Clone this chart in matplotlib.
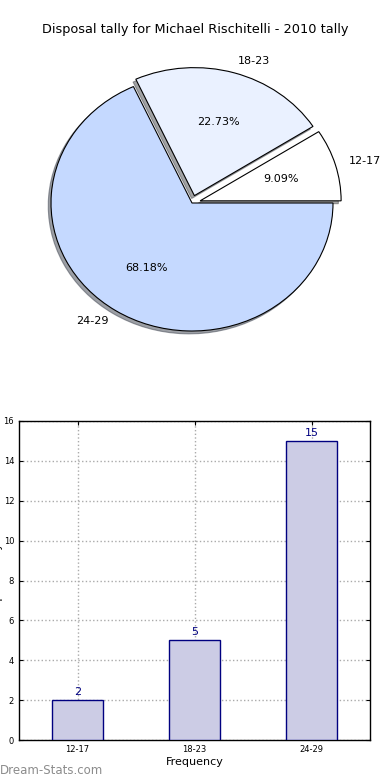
import matplotlib
matplotlib.use("Agg")
import matplotlib.pyplot as plt

title = "Disposal tally for Michael Rischitelli - 2010 tally"
categories = ["12-17", "18-23", "24-29"]
values = [2, 5, 15]
explode = [0.06, 0.06, 0.0]
pie_colors = ["#ffffff", "#eaf1ff", "#c5d9ff"]

fig = plt.figure(figsize=(3.9, 7.8), dpi=100)

# Pie
W, H = 390.0, 780.0
cx, cy, rx, ry = 192.0, 203.0, 141.0, 128.0
lim = 1.25
axp = fig.add_axes([(cx - lim * rx) / W, (H - (cy + lim * ry)) / H,
                    2 * lim * rx / W, 2 * lim * ry / H])
wedges, texts, autotexts = axp.pie(values, labels=categories, explode=explode,
                                   colors=pie_colors, autopct="%1.2f%%",
                                   shadow={"ox": -0.014, "oy": -0.016},
                                   startangle=0, wedgeprops=dict(edgecolor="black", linewidth=0.8),
                                   textprops=dict(fontsize=8))
for w in wedges:
    w.set_clip_on(False)
for t in texts:
    t.set_clip_on(False)
axp.set_aspect("auto")
axp.set_xlim(-lim, lim)
axp.set_ylim(-lim, lim)
axp.set_axis_off()
fig.text(0.5, 1 - 30 / H, title, ha="center", va="center", fontsize=9.3)

# Bars
axb = fig.add_axes([19 / W, 1 - 740 / H, 351 / W, 319 / H])
x = list(range(len(categories)))
bars = axb.bar(x, values, width=0.44, color="#ccccE5", edgecolor="#000080", linewidth=1.0, zorder=3)
for xi, v in zip(x, values):
    axb.text(xi, v + 0.15, str(v), ha="center", va="bottom", fontsize=8, color="#000080", zorder=4)
axb.set_xlim(-0.5, 2.5)
axb.set_ylim(0, 16)
axb.set_yticks(range(0, 17, 2))
axb.set_xticks(x)
axb.set_xticklabels(categories)
axb.tick_params(labelsize=6, direction="in", top=True, right=True, length=3)
axb.grid(True, linestyle=":", color="#aaaaaa", linewidth=1.0, zorder=0)
axb.set_xlabel("Frequency", fontsize=8, labelpad=2)
axb.set_ylabel("Disposal Tally", fontsize=8)
axb.yaxis.set_label_coords(-0.046, 0.5)
for s in axb.spines.values():
    s.set_color("black")
    s.set_linewidth(1.0)

fig.text(0.0, 1 - 771 / H, "Dream-Stats.com", ha="left", va="center", fontsize=8.5,
         color="#8c8c8c")

fig.savefig("out.png", dpi=100)
